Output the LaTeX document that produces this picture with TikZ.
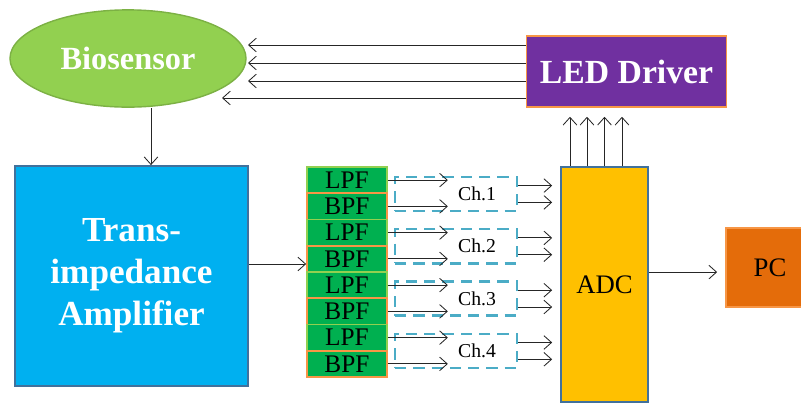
\documentclass[tikz,border=0pt]{standalone}
\usepackage{fontspec}
\setmainfont{Liberation Serif}
\usetikzlibrary{arrows.meta,shapes.geometric}
\definecolor{biogreen}{RGB}{146,208,80}
\definecolor{ledpurple}{RGB}{112,48,160}
\definecolor{edgeorange}{RGB}{247,150,70}
\definecolor{tiablue}{RGB}{0,176,240}
\definecolor{edgeblue}{RGB}{65,113,156}
\definecolor{fltgreen}{RGB}{0,176,80}
\definecolor{chteal}{RGB}{75,172,198}
\definecolor{adcyellow}{RGB}{255,192,0}
\definecolor{pcorange}{RGB}{228,108,10}
\tikzstyle{arr}=[-{Straight Barb[length=1.9mm,width=3.4mm]}, draw=black!85, line width=0.6pt]
\tikzstyle{blk}=[draw, line width=1.2pt, inner sep=0]
\tikzstyle{flt}=[blk, fill=fltgreen, minimum width=2cm, minimum height=0.656cm, font=\fontsize{18}{18}\selectfont]
\tikzstyle{chbox}=[draw=chteal, line width=1.7pt, dash pattern=on 8pt off 5pt, minimum width=3.05cm, minimum height=0.85cm, inner sep=0]

\begin{document}
\begin{tikzpicture}[x=0.025cm, y=-0.025cm]
\useasboundingbox (0,0) rectangle (801,403);
\draw (128,58.5) node[ellipse, fill=biogreen, draw=biogreen!85!black, line width=1pt, minimum width=5.9cm, minimum height=2.43cm, inner sep=0, text=white, font=\bfseries\fontsize{23}{23}\selectfont] (bio) {Biosensor};
\draw (626.5,71.5) node[blk, fill=ledpurple, draw=edgeorange, minimum width=5cm, minimum height=1.78cm, text=white, font=\bfseries\fontsize{24}{24}\selectfont] (led) {LED Driver};
\draw (131.5,276) node[blk, fill=tiablue, draw=edgeblue, minimum width=5.825cm, minimum height=5.5cm, text=white, align=center, font=\bfseries\fontsize{25}{30}\selectfont] (tia) {Trans-\\impedance\\Amplifier};
%
\foreach \i/\t/\c in {1/LPF/biogreen, 2/BPF/edgeorange, 3/LPF/biogreen, 4/BPF/edgeorange, 5/LPF/biogreen, 6/BPF/edgeorange, 7/LPF/biogreen, 8/BPF/edgeorange}
    {
	\draw (347,153.875+26.25*\i) node[flt, draw=\c] (f\i) {\t};}
%
\foreach \k in {1,...,4}
    {
	\draw (456,141.7+52.3*\k) node[chbox, label={[xshift=0.525cm, font=\fontsize{14}{14}\selectfont]center:Ch.\k}] (ch\k) {};}
%
\draw (604.5,284.5) node[blk, fill=adcyellow, draw=edgeblue, minimum width=2.175cm, minimum height=5.875cm, font=\fontsize{19}{19}\selectfont] (adc) {ADC};
\draw (770,267.5) node[blk, fill=pcorange, draw=edgeorange, minimum width=2.2cm, minimum height=1.975cm, font=\fontsize{19}{19}\selectfont] (pc) {PC};
%
\foreach \y/\e in {45/248, 63/248, 81/248, 98/222}
    {
	\coordinate (t\y) at (\e,\y);
	\draw[arr] (led.west |- t\y) -- (t\y);}
%
\draw[arr] ([xshift=0.575cm]bio.south) -- ([xshift=0.575cm]bio.south |- tia.north);
\draw[arr] ([yshift=0.3cm]tia.east) -- ([yshift=0.3cm]tia.east -| f1.west);
%
\foreach \i in {1,...,8}
	\draw[arr] (f\i.east) -- ++(60,0);
\foreach \k in {1,...,4}
    {
	\draw[arr, shorten >=0.2cm] ([yshift=0.21cm]ch\k.east) -- ([yshift=0.21cm]ch\k.east -| adc.west);
	\draw[arr, shorten >=0.2cm] ([yshift=-0.21cm]ch\k.east) -- ([yshift=-0.21cm]ch\k.east -| adc.west);}
%
\foreach \dx in {-0.8625,-0.4375,0,0.4375}
	\draw[arr, shorten >=0.22cm] ([xshift=\dx cm]adc.north) -- ([xshift=\dx cm]adc.north |- led.south);
\draw[arr, shorten >=0.2cm] ([yshift=0.31cm]adc.east) -- ([yshift=0.31cm]adc.east -| pc.west);
\end{tikzpicture}
\end{document}
